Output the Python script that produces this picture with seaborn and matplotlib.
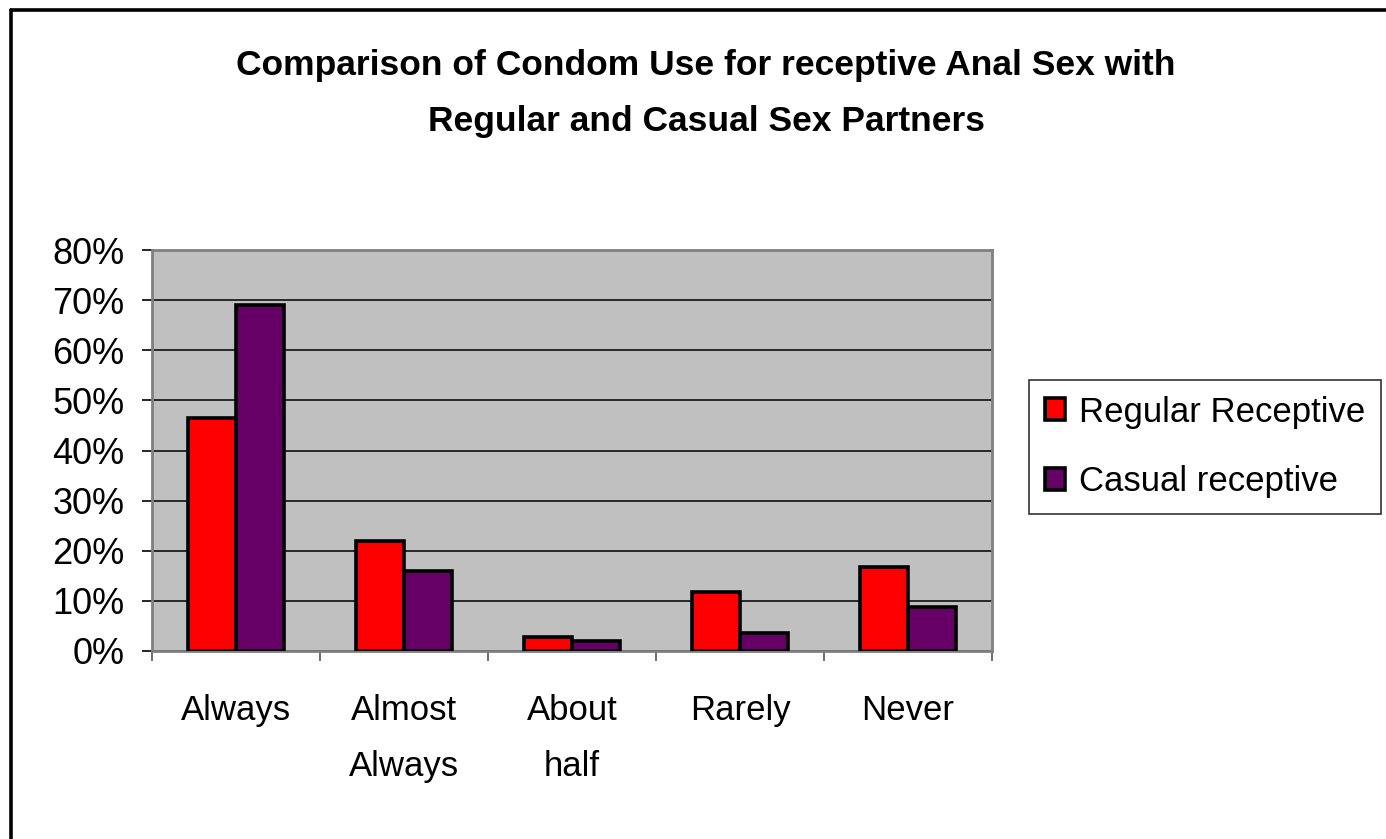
import matplotlib
matplotlib.use("Agg")
import matplotlib.pyplot as plt
import matplotlib.ticker as mticker
from matplotlib.lines import Line2D
import pandas as pd
import seaborn as sns

categories = ["Always", "Almost\nAlways", "About\nhalf", "Rarely", "Never"]
regular_receptive = [0.465, 0.22, 0.027, 0.117, 0.168]
casual_receptive = [0.69, 0.16, 0.02, 0.035, 0.087]
series_names = ["Regular Receptive", "Casual receptive"]
bar_colors = ["#FF0000", "#660066"]

df = pd.DataFrame({
    "category": categories * 2,
    "share": regular_receptive + casual_receptive,
    "series": [series_names[0]] * len(categories) + [series_names[1]] * len(categories),
})

sns.set_theme(style="white", rc={
    "text.color": "black",
    "axes.labelcolor": "black",
    "xtick.color": "black",
    "ytick.color": "black",
})
plt.rcParams["font.family"] = ["Liberation Sans", "DejaVu Sans"]

fig = plt.figure(figsize=(13.86, 8.39), dpi=100)
ax = fig.add_axes([152 / 1386, 1 - 651 / 839, 840 / 1386, 401 / 839])
ax.set_facecolor("#C0C0C0")

sns.barplot(
    data=df,
    x="category",
    y="share",
    hue="series",
    palette=bar_colors,
    width=0.57,
    edgecolor="black",
    linewidth=2.6,
    saturation=1,
    ax=ax,
    zorder=3,
)

ax.set_ylim(0, 0.8)
ax.set_xlim(-0.5, len(categories) - 0.5)
ax.yaxis.set_major_locator(mticker.MultipleLocator(0.1))
ax.yaxis.set_major_formatter(mticker.PercentFormatter(1.0, decimals=0))
ax.grid(axis="y", color="black", linewidth=1.1, zorder=0)
ax.set_axisbelow(True)
ax.set_xlabel("")
ax.set_ylabel("")

for side in ["top", "right", "left", "bottom"]:
    ax.spines[side].set_visible(True)
    ax.spines[side].set_color("#808080")
    ax.spines[side].set_linewidth(2)

ax.tick_params(axis="y", which="major", left=True, length=7, width=1.2,
               color="black", labelsize=26, pad=13)
ax.tick_params(axis="x", which="major", bottom=False, length=0,
               labelsize=25, pad=31)
ax.set_xticks(range(len(categories)))
ax.set_xticklabels(categories, linespacing=1.87, va="top")
ax.xaxis.set_minor_locator(mticker.FixedLocator([i - 0.5 for i in range(len(categories) + 1)]))
ax.tick_params(axis="x", which="minor", bottom=True, length=7, width=1.2, color="#555555")

handles, labels = ax.get_legend_handles_labels()
ax.legend(
    handles, labels,
    loc="upper left",
    bbox_to_anchor=(1029 / 1386, 1 - 380 / 839),
    bbox_transform=fig.transFigure,
    fontsize=25,
    frameon=True,
    fancybox=False,
    edgecolor="#333333",
    framealpha=1,
    handlelength=0.6,
    handleheight=0.6,
    handletextpad=0.4,
    labelspacing=1.05,
    borderpad=0.45,
    borderaxespad=0,
)
ax.get_legend().get_frame().set_linewidth(1.2)

fig.text(
    706 / 1386, 1 - 49 / 839,
    "Comparison of Condom Use for receptive Anal Sex with\nRegular and Casual Sex Partners",
    ha="center", va="top", fontsize=25.5, fontweight="bold", linespacing=1.9,
)

# outer frame (top and left edges visible)
fig.add_artist(Line2D([11 / 1386, 1.01], [1 - 10 / 839, 1 - 10 / 839],
                      transform=fig.transFigure, color="black", linewidth=2.6))
fig.add_artist(Line2D([11 / 1386, 11 / 1386], [-0.01, 1 - 10 / 839],
                      transform=fig.transFigure, color="black", linewidth=2.6))

fig.savefig("out.png", dpi=100)
